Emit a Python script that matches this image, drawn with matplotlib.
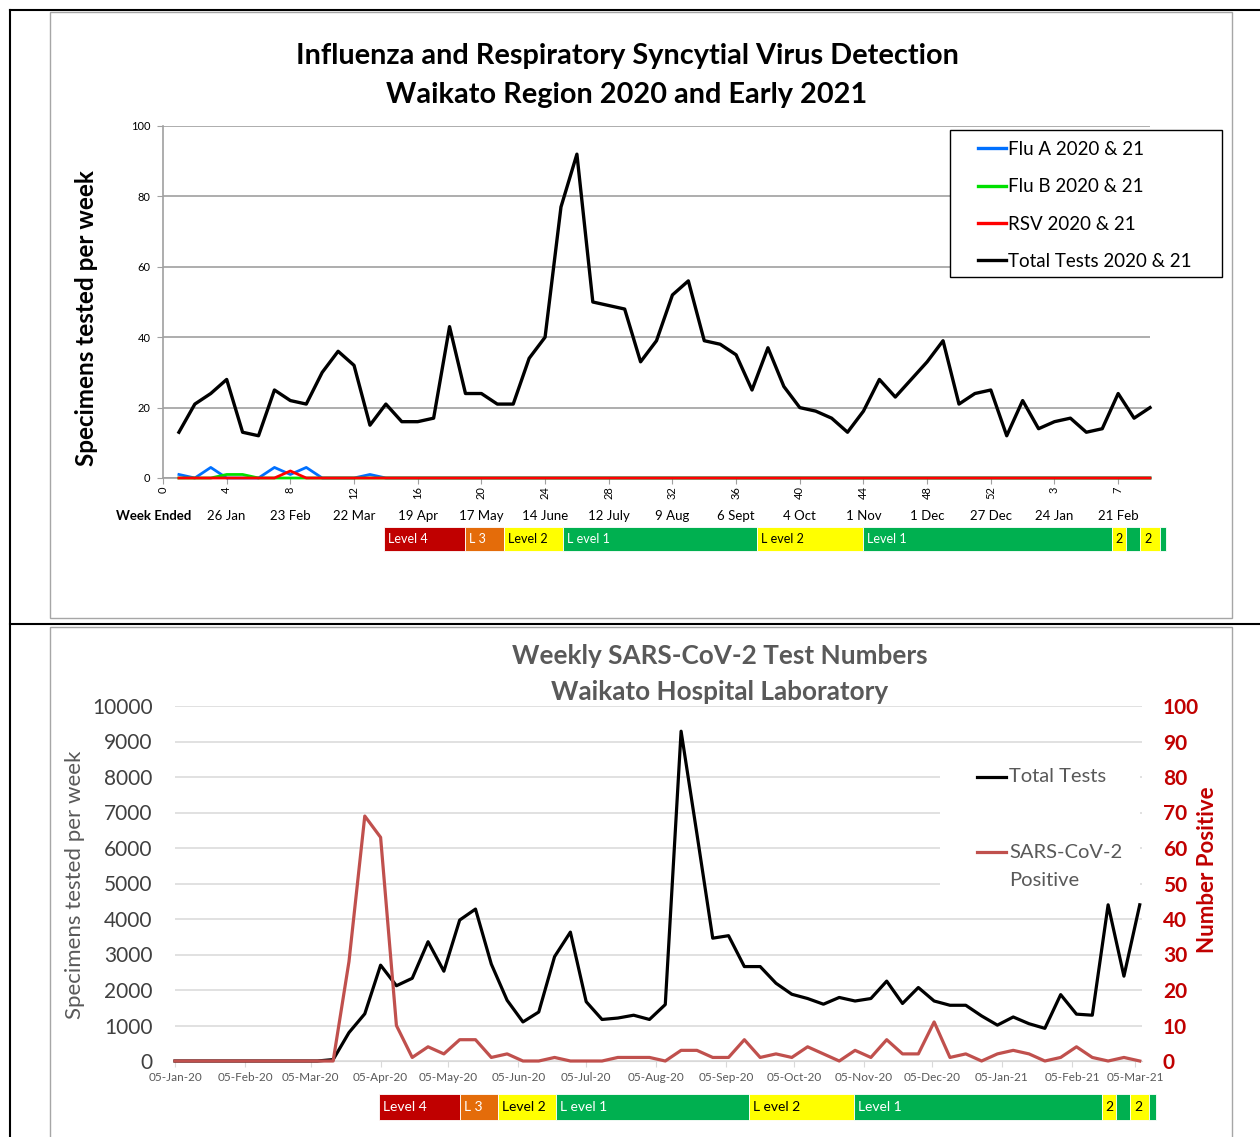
import datetime as dt
import numpy as np
import pandas as pd
import matplotlib
matplotlib.use("Agg")
import matplotlib.pyplot as plt
import matplotlib.dates as mdates
from matplotlib.lines import Line2D
from matplotlib.patches import Rectangle

plt.rcParams['font.family'] = ['Lato', 'DejaVu Sans']

# ---- top chart data: week index 1 = week ended 5 Jan 2020 ----
flu_a = [1, 0, 3, 0, 0, 0, 3, 1, 3, 0, 0, 0, 1, 0, 0, 0, 0, 0, 0, 0,
         0, 0, 0, 0, 0, 0, 0, 0, 0, 0, 0, 0, 0, 0, 0, 0, 0, 0, 0, 0,
         0, 0, 0, 0, 0, 0, 0, 0, 0, 0, 0, 0, 0, 0, 0, 0, 0, 0, 0, 0,
         0, 0]
flu_b = [0, 0, 0, 1, 1, 0, 0, 0, 0, 0, 0, 0, 0, 0, 0, 0, 0, 0, 0, 0,
         0, 0, 0, 0, 0, 0, 0, 0, 0, 0, 0, 0, 0, 0, 0, 0, 0, 0, 0, 0,
         0, 0, 0, 0, 0, 0, 0, 0, 0, 0, 0, 0, 0, 0, 0, 0, 0, 0, 0, 0,
         0, 0]
rsv = [0, 0, 0, 0, 0, 0, 0, 2, 0, 0, 0, 0, 0, 0, 0, 0, 0, 0, 0, 0,
       0, 0, 0, 0, 0, 0, 0, 0, 0, 0, 0, 0, 0, 0, 0, 0, 0, 0, 0, 0,
       0, 0, 0, 0, 0, 0, 0, 0, 0, 0, 0, 0, 0, 0, 0, 0, 0, 0, 0, 0,
       0, 0]
total_resp = [13, 21, 24, 28, 13, 12, 25, 22, 21, 30,
              36, 32, 15, 21, 16, 16, 17, 43, 24, 24,
              21, 21, 34, 40, 77, 92, 50, 49, 48, 33,
              39, 52, 56, 39, 38, 35, 25, 37, 26, 20,
              19, 17, 13, 19, 28, 23, 28, 33, 39, 21,
              24, 25, 12, 22, 14, 16, 17, 13, 14, 24,
              17, 20]
week_ticks = ["0", "4", "8", "12", "16", "20", "24", "28", "32", "36",
              "40", "44", "48", "52", "3", "7"]
week_ended = ["26 Jan", "23 Feb", "22 Mar", "19 Apr", "17 May", "14 June",
              "12 July", "9 Aug", "6 Sept", "4 Oct", "1 Nov", "1 Dec",
              "27 Dec", "24 Jan", "21 Feb"]

# ---- bottom chart data: weeks ending 5 Jan 2020 onwards ----
total_tests = [0, 0, 0, 0, 0, 0, 0, 0, 0, 0,
               40, 800, 1330, 2700, 2120, 2330, 3360, 2530, 3970, 4280,
               2730, 1710, 1100, 1380, 2940, 3630, 1670, 1170, 1210, 1290,
               1170, 1590, 9290, 6400, 3460, 3530, 2660, 2660, 2190, 1880,
               1760, 1600, 1790, 1690, 1760, 2250, 1620, 2070, 1690, 1570,
               1570, 1270, 1010, 1240, 1050, 920, 1870, 1320, 1290, 4400,
               2390, 4400]
positives = [0, 0, 0, 0, 0, 0, 0, 0, 0, 0,
             0, 28, 69, 63, 10, 1, 4, 2, 6, 6,
             1, 2, 0, 0, 1, 0, 0, 0, 1, 1,
             1, 0, 3, 3, 1, 1, 6, 1, 2, 1,
             4, 2, 0, 3, 1, 6, 2, 2, 11, 1,
             2, 0, 2, 3, 2, 0, 1, 4, 1, 0,
             1, 0]

# alert levels (in week index units, same scale as top chart)
level_edges = [13.9, 19.0, 21.4, 25.1, 37.3, 43.95, 59.6, 60.5, 61.4, 62.6, 63.0]
level_nums = [4, 3, 2, 1, 2, 1, 2, 1, 2, 1]
level_text = ["Level 4", "L 3", "Level 2", "L evel 1", "L evel 2", "Level 1",
              "2", "", "2", ""]
level_col = {4: "#C00000", 3: "#E46C0A", 2: "#FFFF00", 1: "#00B050"}

W, H = 1260, 1137


def fx(px):
    return px / W


def fy(py):
    return 1 - py / H


def rect(l, t, r, b):
    return [l / W, 1 - b / H, (r - l) / W, (b - t) / H]


fig = plt.figure(figsize=(12.6, 11.37), dpi=100)

# outer frames
for (x0, y0, x1, y1) in [(10, 10, 1260, 10), (10, 624, 1260, 624), (10, 10, 10, 1137)]:
    fig.add_artist(Line2D([fx(x0), fx(x1)], [fy(y0), fy(y1)], color="black", lw=1.5,
                          transform=fig.transFigure))
for (l, t, r, b) in [(50, 12, 1232, 618), (50, 627, 1232, 1140)]:
    fig.add_artist(Rectangle((fx(l), fy(b)), (r - l) / W, (b - t) / H, fill=False,
                             edgecolor="#A6A6A6", lw=1, transform=fig.transFigure))


def level_bar(rect_px, xlim, xconv, fsize):
    bax = fig.add_axes(rect(*rect_px))
    bax.set_xlim(*xlim)
    bax.set_ylim(0, 1)
    bax.axis("off")
    for i, n in enumerate(level_nums):
        x0, x1 = xconv(level_edges[i]), xconv(level_edges[i + 1])
        bax.barh(0.5, x1 - x0, left=x0, height=1, color=level_col[n],
                 edgecolor="white", lw=0.6, clip_on=False)
        tc = "black" if n == 2 else "white"
        bax.text(x0 + (xconv(0.25) - xconv(0)), 0.5, level_text[i], color=tc,
                 fontsize=fsize, va="center", ha="left", clip_on=False)
    return bax


# ================= top chart =================
ax = fig.add_axes(rect(163, 126, 1150, 478))
x_top = np.arange(1, len(total_resp) + 1)
ax.plot(x_top, flu_a, color="#0070FF", lw=2, label="Flu A 2020 & 21", clip_on=False, zorder=3)
ax.plot(x_top, flu_b, color="#00E000", lw=2, label="Flu B 2020 & 21", clip_on=False, zorder=3)
ax.plot(x_top, rsv, color="#FF0000", lw=2, label="RSV 2020 & 21", clip_on=False, zorder=3)
ax.plot(x_top, total_resp, color="black", lw=2.4, label="Total Tests 2020 & 21",
        clip_on=False, zorder=3)
ax.set_xlim(0, 62)
ax.set_ylim(0, 100)
ax.set_yticks(range(0, 101, 20))
ax.set_xticks(range(0, 61, 4))
ax.set_xticklabels(week_ticks, rotation=90, fontsize=8)
ax.tick_params(axis="y", labelsize=8, length=4, color="#A0A0A0", pad=5)
ax.tick_params(axis="x", length=4, color="#A0A0A0", pad=2)
ax.grid(axis="y", color="#A0A0A0", lw=1.2)
ax.set_axisbelow(True)
for s in ["top", "right"]:
    ax.spines[s].set_visible(False)
for s in ["left", "bottom"]:
    ax.spines[s].set_color("#A0A0A0")
    ax.spines[s].set_linewidth(1.2)

for i, lab in enumerate(week_ended):
    ax.text(4 * (i + 1), -0.108, lab, transform=ax.get_xaxis_transform(),
            ha="center", va="center", fontsize=9.5)
fig.text(fx(154), fy(516), "Week Ended", ha="center", va="center",
         fontsize=9.5, fontweight="bold")

fig.text(fx(627), fy(56), "Influenza and Respiratory Syncytial Virus Detection",
         ha="center", va="center", fontsize=20.8, fontweight="bold")
fig.text(fx(627), fy(95), "Waikato Region 2020 and Early 2021",
         ha="center", va="center", fontsize=20.8, fontweight="bold")
fig.text(fx(87), fy(318), "Specimens tested per week", rotation=90,
         ha="center", va="center", fontsize=17.5, fontweight="bold")

# legend: white framed box drawn separately so it can be wider than its content
ax.add_patch(Rectangle((fx(950), fy(277)), 272 / W, 147 / H, facecolor="white",
                       edgecolor="black", lw=1.0, transform=fig.transFigure,
                       clip_on=False, zorder=4))
leg = ax.legend(loc="upper left", bbox_to_anchor=(fx(978), fy(141)),
                bbox_transform=fig.transFigure, frameon=False,
                fontsize=13.5, handlelength=1.5, handletextpad=0.1,
                labelspacing=1.08, borderpad=0, borderaxespad=0)
leg.set_zorder(6)
for h in leg.get_lines():
    h.set_linewidth(2.4)

level_bar((163, 527, 1150, 551), (0, 62), lambda v: v, 9)

# ================= bottom chart =================
weeks = pd.date_range("2020-01-05", periods=len(total_tests), freq="7D")
start = mdates.date2num(dt.datetime(2020, 1, 5))
end = mdates.date2num(dt.datetime(2021, 3, 8))

ax2 = fig.add_axes(rect(175, 706, 1142, 1061))
ax2.plot(weeks, total_tests, color="black", lw=2.3, clip_on=False, zorder=3)
ax2.set_ylim(0, 10000)
ax2.set_yticks(range(0, 10001, 1000))
ax2.set_xlim(start, end)
month_ticks = [dt.datetime(2020 + m // 12, m % 12 + 1, 5) for m in range(15)]
ax2.set_xticks(month_ticks)
ax2.xaxis.set_major_formatter(mdates.DateFormatter("%d-%b-%y"))
ax2.grid(axis="y", color="#D9D9D9", lw=1.1)
ax2.set_axisbelow(True)
ax2.tick_params(axis="y", length=0, labelsize=15, labelcolor="#404040", pad=16)
ax2.tick_params(axis="x", length=4, color="#D9D9D9", labelsize=8.5,
                labelcolor="#595959", pad=4)
for s in ["top", "right", "left"]:
    ax2.spines[s].set_visible(False)
ax2.spines["bottom"].set_color("#D9D9D9")

ax3 = ax2.twinx()
ax3.plot(weeks, positives, color="#C0504D", lw=2.3, clip_on=False)
ax3.set_ylim(0, 100)
ax3.set_yticks(range(0, 101, 10))
ax3.tick_params(axis="y", length=0, labelsize=15, labelcolor="#C00000", pad=15)
for t in ax3.get_yticklabels():
    t.set_fontweight("bold")
for s in ax3.spines.values():
    s.set_visible(False)

fig.text(fx(720), fy(656), "Weekly SARS-CoV-2 Test Numbers", ha="center",
         va="center", fontsize=18.8, fontweight="bold", color="#595959")
fig.text(fx(720), fy(692), "Waikato Hospital Laboratory", ha="center",
         va="center", fontsize=18.8, fontweight="bold", color="#595959")
fig.text(fx(75), fy(885), "Specimens tested per week", rotation=90,
         ha="center", va="center", fontsize=16, color="#595959")
fig.text(fx(1208), fy(870), "Number Positive", rotation=90, ha="center",
         va="center", fontsize=16, fontweight="bold", color="#C00000")

# legend (drawn by hand so the handle sits on the first text line)
fig.add_artist(Rectangle((fx(940), fy(898)), 200 / W, 146 / H, facecolor="white",
                         edgecolor="none", transform=fig.transFigure, zorder=5))
for y, col, lab in [(777, "black", "Total Tests"), (852, "#C0504D", "SARS-CoV-2")]:
    fig.add_artist(Line2D([fx(977), fx(1006)], [fy(y), fy(y)], color=col, lw=2.3,
                          transform=fig.transFigure, zorder=6))
    fig.text(fx(1009), fy(y), lab, ha="left", va="center", fontsize=14.5,
             color="#595959", zorder=6)
fig.text(fx(1009), fy(881), "Positive", ha="left", va="center", fontsize=14.5,
         color="#595959", zorder=6)

level_bar((175, 1094, 1142, 1120), (start, end), lambda v: start + (v - 1) * 7, 10)

fig.savefig("out.png", dpi=100)
